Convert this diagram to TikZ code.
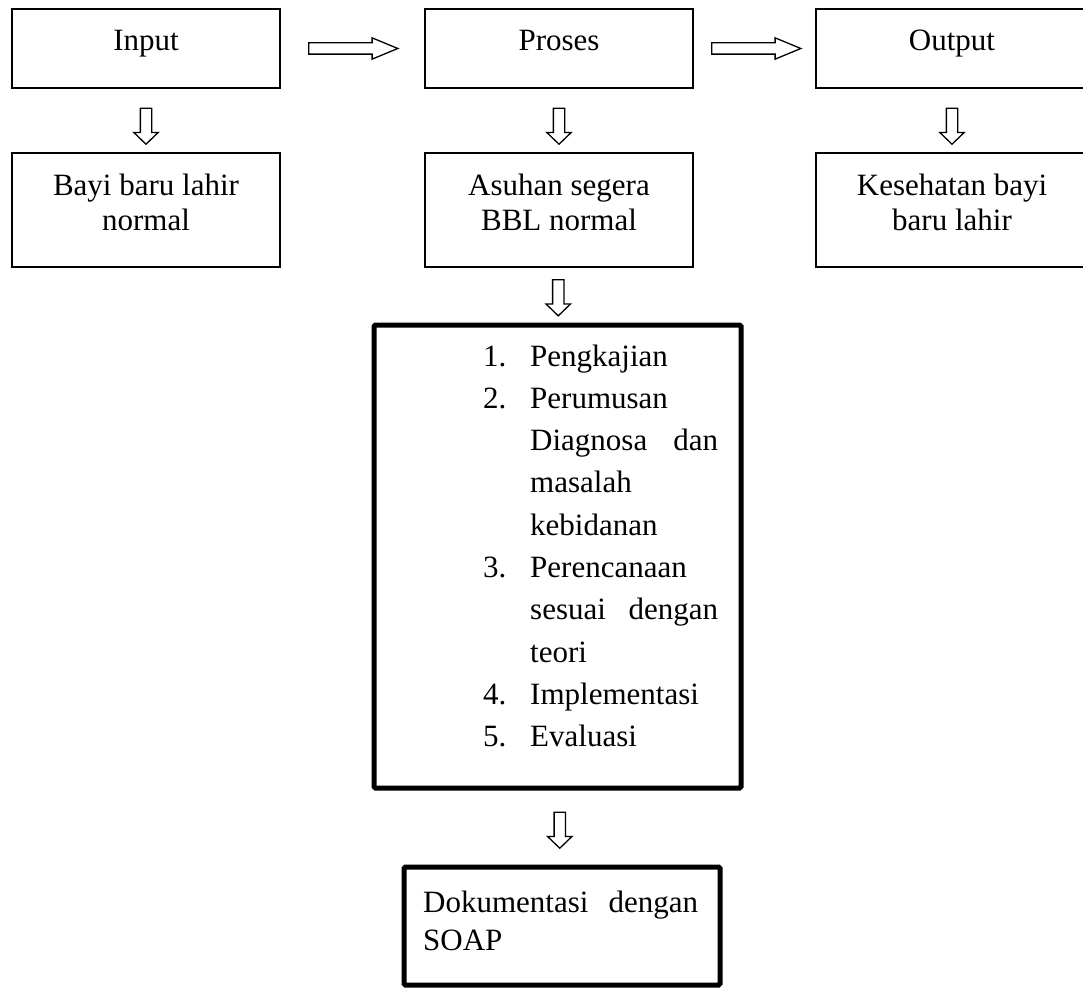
\documentclass[tikz,border=0pt]{standalone}
\usepackage{fontspec}
\setmainfont{Liberation Serif}
\usetikzlibrary{positioning, shapes.arrows, calc}

\newcommand{\itm}[1]{\makebox[47pt][l]{#1}}
\newcommand{\jline}[3]{\hbox to #1{#2\hfill #3}}

\tikzset{
  box/.style={draw, line width=1.4pt, minimum width=268pt, minimum height=79pt, inner sep=0pt},
  tallbox/.style={box, minimum height=114pt},
  thickbox/.style={draw, line width=5pt, inner sep=0pt, rounded corners=1.5pt},
  txt/.style={font=\fontsize{31}{35}\selectfont, align=center, inner sep=0pt, anchor=base},
  listtxt/.style={font=\fontsize{31}{38}\selectfont, align=left, inner sep=0pt, anchor=base west},
  harrow/.style={single arrow, draw, line width=1.3pt, minimum height=89pt, inner sep=5pt,
    single arrow head extend=5pt, single arrow tip angle=45},
  varrow/.style={single arrow, draw, line width=1.3pt, shape border rotate=270, minimum height=36pt,
    inner sep=5pt, single arrow head extend=6.5pt, single arrow tip angle=92},
}

\begin{document}
\begin{tikzpicture}[x=1pt, y=-1pt]
    \useasboundingbox (0,0) rectangle (1083,987);

    % baris atas
    \node[box] (input) at (146,48.5) {};
    \node[box] (proses) at (559,48.5) {};
    \node[box, minimum width=272pt] (output) at (952,48.5) {};
    \node[txt] (inputtxt) at (146,51) {Input};
    \node[txt] (prosestxt) at (559,51) {Proses};
    \node[txt] (outputtxt) at (952,51) {Output};

    % baris kedua
    \node[tallbox] (bayi) at (146,210) {};
    \node[tallbox] (asuhan) at (559,210) {};
    \node[tallbox, minimum width=272pt] (kesehatan) at (952,210) {};
    \node[txt] (bayitxt) at (146,230) {Bayi baru lahir\\normal};
    \node[txt] (asuhantxt) at (559,230) {Asuhan segera\\BBL normal};
    \node[txt] (kesehatantxt) at (952,230) {Kesehatan bayi\\baru lahir};

    % langkah asuhan
    \node[thickbox, minimum width=367pt, minimum height=463pt] (langkah) at (557.5,556.5) {};
    \foreach \baris [count=\i from 0] in {
        {\itm{1.}Pengkajian},
        {\itm{2.}Perumusan},
        {\itm{}\jline{188pt}{Diagnosa}{dan}},
        {\itm{}masalah},
        {\itm{}kebidanan},
        {\itm{3.}Perencanaan},
        {\itm{}\jline{188pt}{sesuai}{dengan}},
        {\itm{}teori},
        {\itm{4.}Implementasi},
        {\itm{5.}Evaluasi}}
        \node[listtxt] (baris\i) at (483,{366+42.3*\i}) {\baris};

    % dokumentasi
    \node[thickbox, minimum width=316pt, minimum height=118pt] (dok) at (562,926) {};
    \node[listtxt] (doktxt) at (423,950) {\jline{275pt}{Dokumentasi}{dengan}\\SOAP};

    % panah
    \node[harrow] (panah1) at ($(input.east)!0.5!(proses.west)+(-6,0)$) {};
    \node[harrow] (panah2) at ($(proses.east)!0.5!(output.west)+(-5,0)$) {};
    \node[varrow] (panah3) at ($(input.south)!0.5!(bayi.north)+(0,3)$) {};
    \node[varrow] (panah4) at ($(proses.south)!0.5!(asuhan.north)+(0,3)$) {};
    \node[varrow] (panah5) at ($(output.south)!0.5!(kesehatan.north)+(0,3)$) {};
    \node[varrow] (panah6) at ($(asuhan.south)!0.5!(langkah.north)$) {};
    \node[varrow] (panah7) at ($(langkah.south)!0.5!(dok.north)$) {};

\end{tikzpicture}
\end{document}
